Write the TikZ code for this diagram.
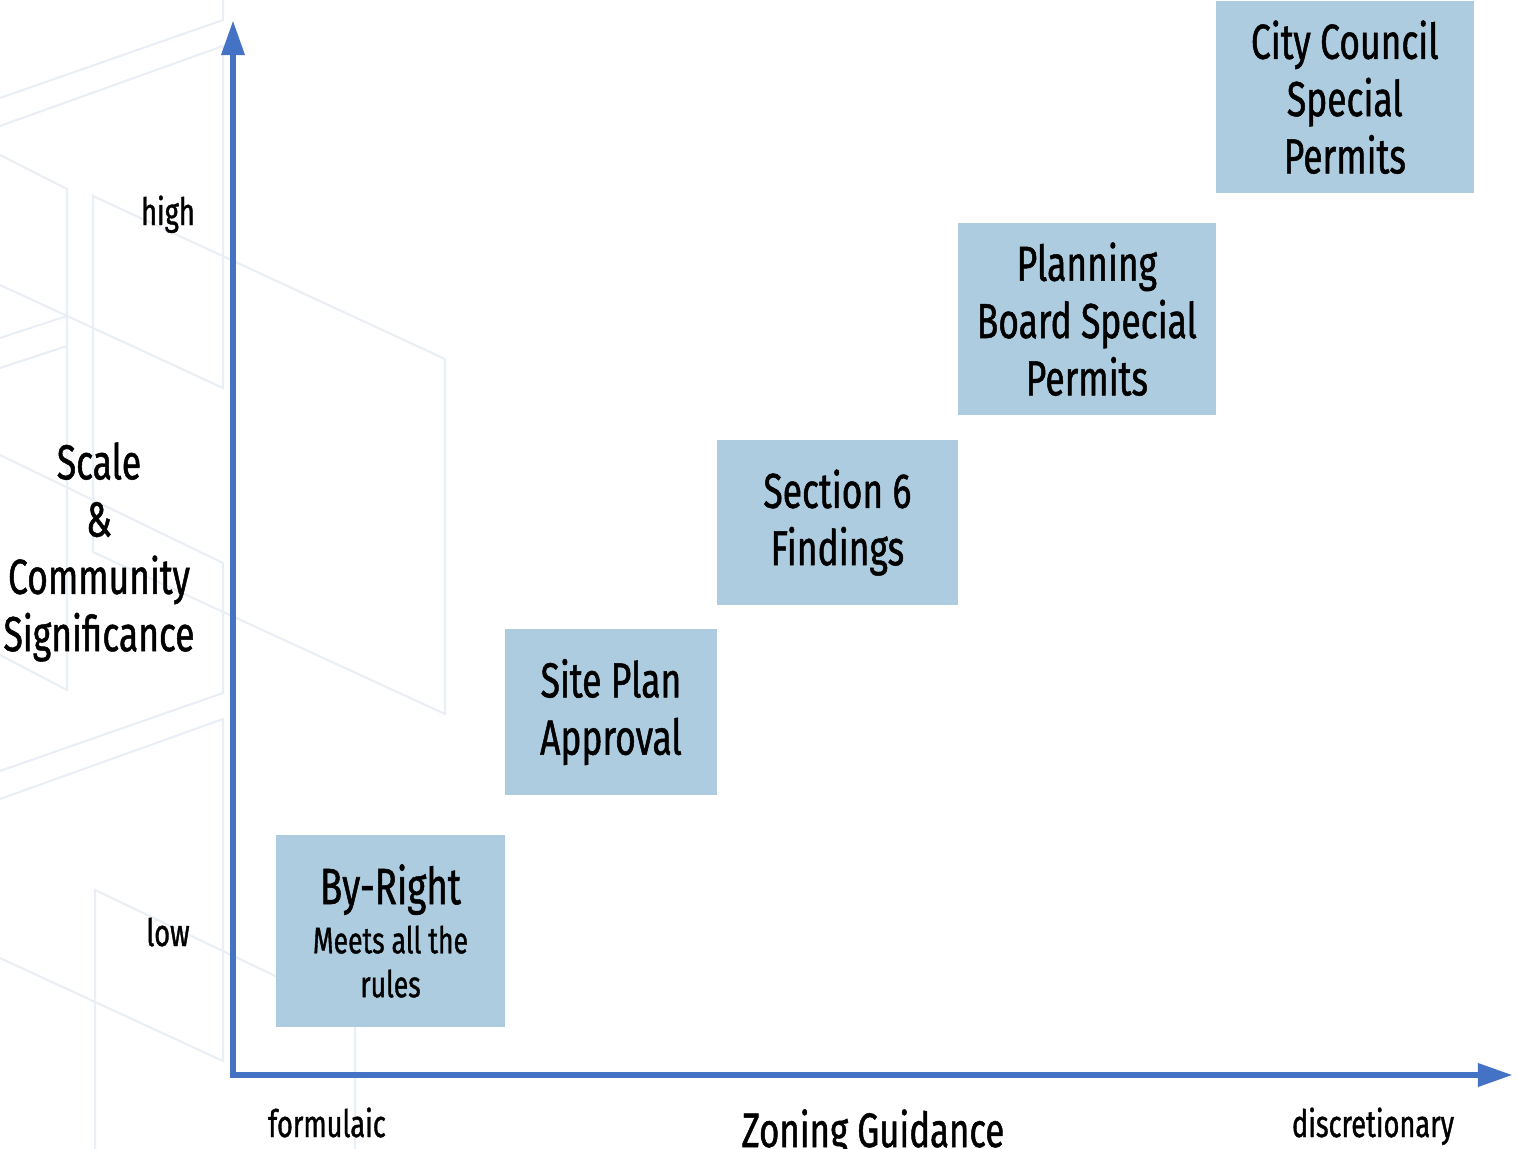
\documentclass[tikz,border=0pt]{standalone}
\usepackage{fontspec}
\setmainfont{Fira Sans}[FakeStretch=0.72,FakeBold=1]
\usetikzlibrary{positioning,arrows.meta}

\definecolor{axisblue}{RGB}{68,114,196}
\definecolor{boxblue}{RGB}{174,204,223}
\definecolor{bggray}{RGB}{234,239,245}

\begin{document}
\begin{tikzpicture}[
x = 0.02cm, y = -0.02cm, % pixel grid, y pointing down
> = {Triangle[length=20pt,width=12.5pt]}, % arrow head style
axis/.style = {draw=axisblue, line width=3.8pt},
bg/.style = {draw=bggray, line width=1.2pt},
permitbox/.style = {fill=boxblue, inner sep=0pt, outer sep=0pt, align=center,
  font=\fontsize{28}{32.6}\selectfont, execute at begin node={\rule{0pt}{26pt}}},
axislabel/.style = {font=\fontsize{21.5}{25}\selectfont, anchor=base}
]

\useasboundingbox (0,0) rectangle (1518,1149);

% faint building outline in the back
\draw[bg] (223,0) -- (223,20) -- (0,98);
\draw[bg] (0,126) -- (223,46) -- (223,388) -- (0,285);
\draw[bg] (0,455) -- (223,563) -- (223,693) -- (0,771);
\draw[bg] (0,799) -- (223,719) -- (223,1061) -- (0,958);

\draw[bg] (0,155) -- (67,189) -- (67,690) -- (0,655);
\draw[bg] (0,338) -- (67,316);
\draw[bg] (0,368) -- (67,346);

\draw[bg] (93,196) -- (445,359) -- (445,714) -- (93,552) -- cycle;
\draw[bg] (95,1149) -- (95,890) -- (355,1014) -- (355,1149);

% the permit steps
\node[permitbox, minimum width=4.58cm, minimum height=3.84cm, font=\fontsize{29}{28}\selectfont] (byright) at (390.5,931)
  {By-Right\\{\fontsize{21}{25}\selectfont Meets all the}\\[-3pt]{\fontsize{21}{25}\selectfont rules}};
\node[permitbox, minimum width=4.24cm, minimum height=3.32cm] (siteplan) [above right=0.8cm and 0cm of byright] {Site Plan\\Approval};
\node[permitbox, minimum width=4.82cm, minimum height=3.3cm] (section) [above right=0.48cm and 0cm of siteplan] {Section 6\\Findings};
\node[permitbox, minimum width=5.16cm, minimum height=3.84cm] (planning) [above right=0.5cm and 0cm of section] {Planning\\Board Special\\Permits};
\node[permitbox, minimum width=5.16cm, minimum height=3.84cm] (council) [above right=0.6cm and 0cm of planning] {City Council\\Special\\Permits};

% axes
\coordinate (origin) at (233,1075);
\coordinate (ytop) at (233,20);
\coordinate (xend) at (1513,1075);
\draw[axis,<->] (ytop) -- (origin) -- (xend);

\node[axislabel] (high) at (168,225) {high};
\node[axislabel] (low) at (168,946) {low};
\node[axislabel] (formulaic) at (327,1137) {formulaic};
\node[axislabel] (discretionary) at (1373,1137) {discretionary};
\node[font=\fontsize{27.5}{32.6}\selectfont, anchor=base] (zoning) at (873,1147) {Zoning Guidance};
\node[align=center, font=\fontsize{28}{32.6}\selectfont] (scale) at (99,552) {Scale\\\&\\Community\\Significance};

\end{tikzpicture}
\end{document}
